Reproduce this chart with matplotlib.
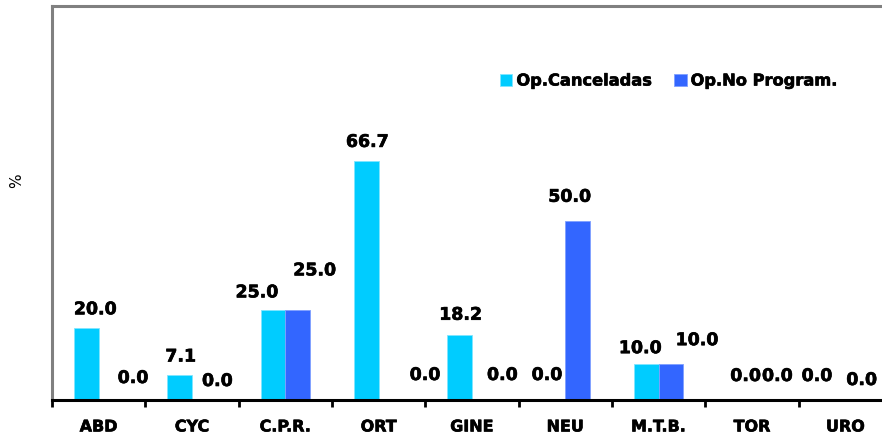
import matplotlib.pyplot as plt
import matplotlib.patheffects as pe
import numpy as np

categories = ["ABD", "CYC", "C.P.R.", "ORT", "GINE", "NEU", "M.T.B.", "TOR", "URO"]
canceladas = [20.0, 7.1, 25.0, 66.7, 18.2, 0.0, 10.0, 0.0, 0.0]
no_program = [0.0, 0.0, 25.0, 0.0, 0.0, 50.0, 10.0, 0.0, 0.0]
series_names = ["Op.Canceladas", "Op.No Program."]

# value-label nudges (pixels) so neighbouring labels do not collide
label_shift_canc = [(9, 19), (1, 18), (-16, 18), (1, 19), (1, 20), (-6, 25), (-6, 16), (6, 24), (-16, 24)]
label_shift_nop = [(22, 22), (13, 19), (17, 40), (34, 25), (18, 25), (-8, 24), (26, 24), (13, 24), (4, 20)]

CYAN = "#00CCFF"
BLUE = "#3366FF"
DPI = 100
PX = 72 / DPI
heavy = [pe.withStroke(linewidth=0.45, foreground="black")]

fig = plt.figure(figsize=(8.82, 4.39), dpi=DPI)
W, H = 882, 439
ax = fig.add_axes([52 / W, (H - 401) / H, 840 / W, 394.3 / H])

x = np.arange(len(categories))
bw = 0.265
b1 = ax.bar(x - bw / 2, canceladas, bw, color=CYAN, edgecolor="#7FE5FF", linewidth=0.6,
            label=series_names[0], zorder=2)
b2 = ax.bar(x + bw / 2, no_program, bw, color=BLUE, edgecolor="#7F9FFF", linewidth=0.6,
            label=series_names[1], zorder=2)

for xs, vals, shifts in ((x - bw / 2, canceladas, label_shift_canc),
                         (x + bw / 2, no_program, label_shift_nop)):
    for xi, v, (dx, dy) in zip(xs, vals, shifts):
        ax.annotate(f"{v:.1f}", xy=(xi, v), xytext=(dx * PX, dy * PX),
                    textcoords="offset points", ha="center", va="center",
                    fontsize=12.5, fontweight="bold", color="black",
                    annotation_clip=False, path_effects=heavy)

ax.set_xlim(-0.5, len(categories) - 0.5)
ax.set_ylim(0, 110)

ax.set_xticks(x)
ax.set_xticklabels(categories, fontsize=11.5, fontweight="bold")
for t in ax.get_xticklabels():
    t.set_path_effects(heavy)
ax.set_xticks(np.arange(len(categories) + 1) - 0.5, minor=True)
ax.tick_params(axis="x", which="major", length=0, pad=14)
ax.tick_params(axis="x", which="minor", length=5, width=2, color="black", direction="out")
ax.set_yticks([])

for side in ("left", "top"):
    ax.spines[side].set_color("#808080")
    ax.spines[side].set_linewidth(2.2)
ax.spines["right"].set_visible(False)
ax.spines["bottom"].set_color("black")
ax.spines["bottom"].set_linewidth(2.2)

fig.text(17 / W, 1 - 181 / H, "%", rotation=90, ha="center", va="center", fontsize=11)

leg = fig.legend(handles=[b1, b2], loc="center left", bbox_to_anchor=(492 / W, 1 - 82 / H),
                 ncol=2, frameon=False, handlelength=0.75, handleheight=0.75,
                 handletextpad=0.25, columnspacing=1.35, borderpad=0,
                 prop={"weight": "bold", "size": 11.7})
for t in leg.get_texts():
    t.set_path_effects(heavy)

fig.savefig("out.png", dpi=DPI)
